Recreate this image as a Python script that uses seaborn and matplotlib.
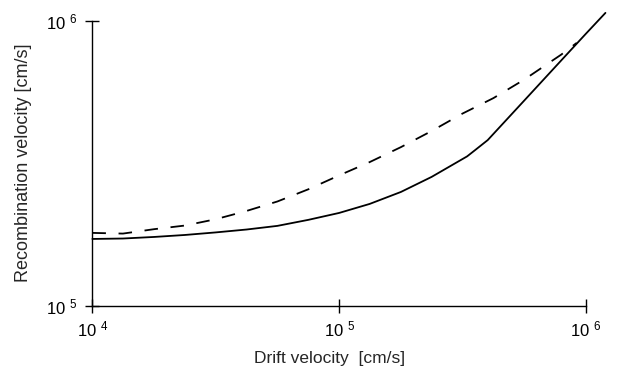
import matplotlib
matplotlib.use("Agg")
import matplotlib.pyplot as plt
import seaborn as sns
import pandas as pd
from matplotlib.ticker import FixedLocator, NullLocator, FixedFormatter

# drift velocity [cm/s] and recombination velocity [cm/s]
drift_solid = [1.0e4, 1.33e4, 1.78e4, 2.37e4, 3.16e4, 4.22e4, 5.62e4, 7.5e4, 1.0e5,
               1.33e5, 1.78e5, 2.37e5, 3.3e5, 3.55e5, 4.0e5, 5.62e5, 7.94e5, 1.0e6,
               1.2e6]
recomb_solid = [1.714e5, 1.72e5, 1.742e5, 1.77e5, 1.807e5, 1.85e5, 1.905e5, 2.0e5,
                2.115e5, 2.275e5, 2.506e5, 2.83e5, 3.34e5, 3.51e5, 3.81e5, 5.24e5,
                7.25e5, 9.0e5, 1.065e6]

drift_dashed = [1.0e4, 1.33e4, 1.78e4, 2.37e4, 3.16e4, 4.22e4, 5.62e4, 7.5e4, 1.0e5,
                1.33e5, 1.78e5, 2.37e5, 3.16e5, 4.22e5, 5.62e5, 7.94e5, 9.18e5]
recomb_dashed = [1.80e5, 1.79e5, 1.855e5, 1.91e5, 2.01e5, 2.15e5, 2.32e5, 2.56e5,
                 2.865e5, 3.19e5, 3.6e5, 4.10e5, 4.72e5, 5.35e5, 6.21e5, 7.60e5,
                 8.36e5]

x_ticks = [1e4, 1e5, 1e6]
x_labels = ["10 $^{4}$", "10 $^{5}$", "10 $^{6}$"]
y_ticks = [1e5, 1e6]
y_labels = ["10 $^{5}$", "10 $^{6}$"]

sns.set_style("ticks")
plt.rcParams["font.family"] = ["Liberation Sans", "DejaVu Sans"]
plt.rcParams["mathtext.default"] = "regular"

fig, ax = plt.subplots(figsize=(6.2, 3.83), dpi=100)
fig.subplots_adjust(left=0.149, right=0.945, bottom=0.202, top=0.946)

df_solid = pd.DataFrame({"drift": drift_solid, "recomb": recomb_solid})
df_dashed = pd.DataFrame({"drift": drift_dashed, "recomb": recomb_dashed})

sns.lineplot(data=df_solid, x="drift", y="recomb", ax=ax, color="black", lw=1.3,
             clip_on=False)
sns.lineplot(data=df_dashed, x="drift", y="recomb", ax=ax, color="black", lw=1.3,
             linestyle=(0, (7.5, 7)), clip_on=False)

ax.set_xscale("log")
ax.set_yscale("log")
ax.set_xlim(1e4, 1e6)
ax.set_ylim(1e5, 1e6)

ax.xaxis.set_major_locator(FixedLocator(x_ticks))
ax.xaxis.set_major_formatter(FixedFormatter(x_labels))
ax.yaxis.set_major_locator(FixedLocator(y_ticks))
ax.yaxis.set_major_formatter(FixedFormatter(y_labels))
ax.xaxis.set_minor_locator(NullLocator())
ax.yaxis.set_minor_locator(NullLocator())

ax.tick_params(axis="both", direction="inout", length=10, width=1.0, colors="black",
               labelsize=12)
ax.tick_params(axis="x", pad=5)
ax.tick_params(axis="y", pad=6)

sns.despine(ax=ax)
for side in ["left", "bottom"]:
    ax.spines[side].set_linewidth(1.0)
    ax.spines[side].set_color("black")

ax.set_xlabel("Drift velocity  [cm/s]", fontsize=12.5, labelpad=7)
ax.set_ylabel("Recombination velocity [cm/s]", fontsize=13, labelpad=10)
ax.xaxis.set_label_coords(0.48, -0.16)

plt.savefig("out.png", dpi=100)
plt.close(fig)
